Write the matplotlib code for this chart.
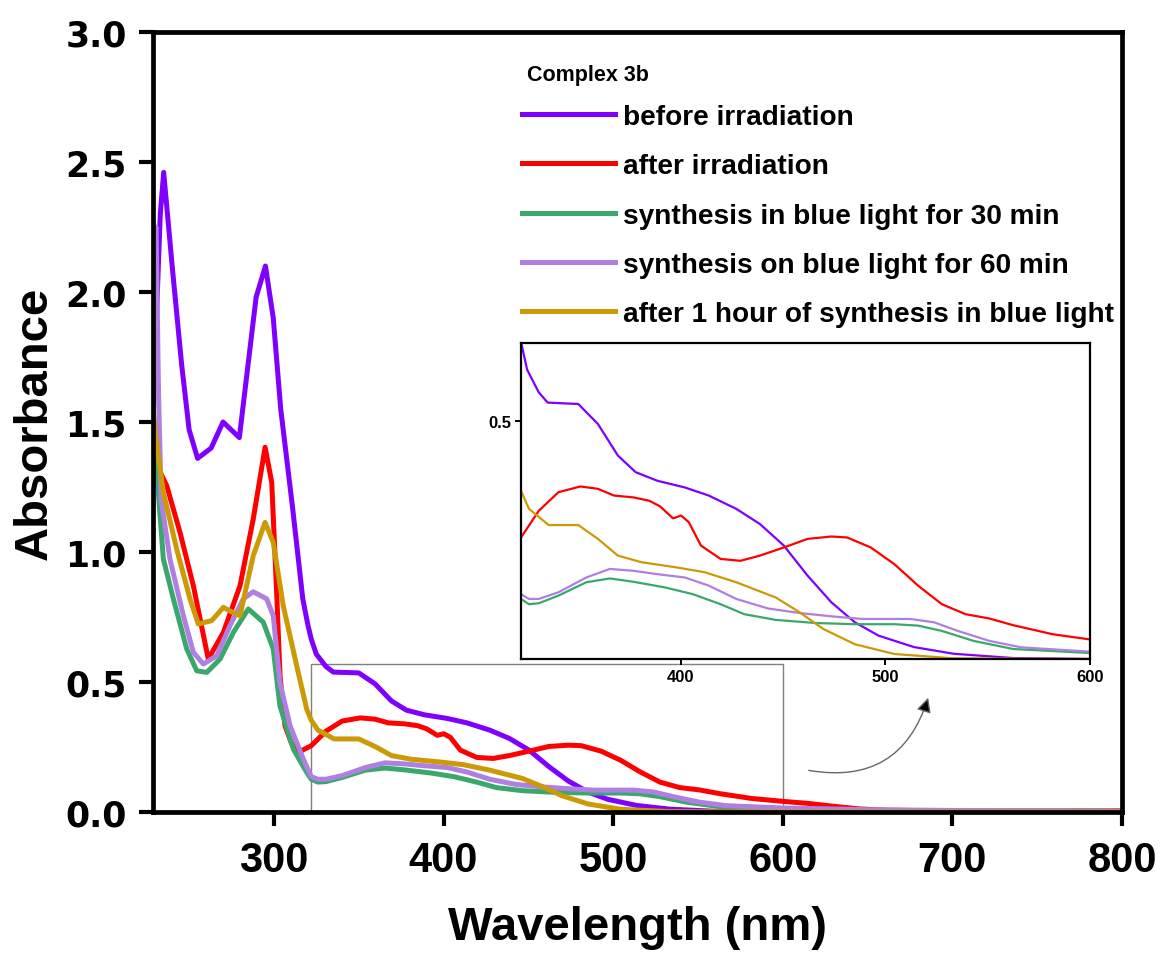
import matplotlib
matplotlib.use("Agg")
import matplotlib.pyplot as plt
from matplotlib.patches import Rectangle, FancyArrowPatch
from matplotlib.lines import Line2D

# ---- spectra: wavelength (nm) / absorbance pairs ----
wl_before = [229, 231, 233, 235, 240, 245.6, 250, 255, 263, 270, 279.6, 289.5, 295, 299.6,
             304, 311, 317, 320, 322, 325, 330.6, 335, 350, 359.6, 369.3, 378, 388.6, 402,
             413.7, 427.2, 438.8, 450.4, 462, 473.6, 485.1, 496.7, 514, 533.4, 562.4, 600,
             650, 700, 750, 800]
abs_before = [1.55, 1.95, 2.30, 2.46, 2.10, 1.72, 1.47, 1.36, 1.40, 1.50, 1.44, 1.98, 2.10, 1.90,
              1.55, 1.17, 0.82, 0.72, 0.665, 0.607, 0.56, 0.538, 0.535, 0.493, 0.427, 0.392,
              0.374, 0.360, 0.343, 0.315, 0.283, 0.238, 0.175, 0.119, 0.077, 0.049, 0.025,
              0.011, 0.002, 0.0, 0.0, 0.0, 0.0, 0.0]

wl_after = [229, 232, 236.8, 244.6, 252.5, 261.3, 270.2, 280, 287.8, 294.8, 298.7, 301.6,
            303.6, 306.5, 310, 313.4, 316, 322, 330.7, 340.3, 351, 359.6, 367.4, 377, 384.7,
            390, 396.3, 400.2, 404, 409.9, 419.5, 429.2, 438.8, 450.4, 462, 473.6, 481.3,
            492.9, 504.4, 516, 527.6, 539.2, 550.8, 562.4, 581.7, 600, 615, 630, 645, 660,
            700, 750, 800]
abs_after = [1.38, 1.32, 1.255, 1.076, 0.87, 0.588, 0.691, 0.87, 1.127, 1.403, 1.268, 0.845,
             0.524, 0.332, 0.27, 0.236, 0.235, 0.255, 0.311, 0.350, 0.362, 0.357, 0.343, 0.339,
             0.332, 0.32, 0.295, 0.301, 0.287, 0.238, 0.210, 0.206, 0.217, 0.234, 0.252, 0.257,
             0.255, 0.234, 0.199, 0.154, 0.115, 0.094, 0.085, 0.071, 0.052, 0.041, 0.033,
             0.022, 0.012, 0.007, 0.004, 0.004, 0.005]

wl_30 = [229, 231, 234.8, 240.7, 248.6, 254.5, 260.4, 268.2, 276.1, 284.9, 293.7, 299.6, 303.5,
         311.4, 319.3, 322, 325.9, 330.7, 340.3, 353.9, 365.4, 377, 392.5, 406, 419.5, 431.1,
         446.5, 465.9, 485.1, 504.4, 516, 527.6, 543.1, 562.4, 600, 650, 700, 800]
abs_30 = [1.55, 1.30, 0.973, 0.82, 0.627, 0.543, 0.537, 0.588, 0.691, 0.781, 0.73, 0.627, 0.409,
          0.242, 0.153, 0.126, 0.115, 0.117, 0.133, 0.161, 0.169, 0.162, 0.150, 0.136, 0.115,
          0.094, 0.082, 0.0755, 0.073, 0.073, 0.070, 0.059, 0.038, 0.021, 0.0126, 0.006,
          0.004, 0.003]

wl_60 = [229, 230.5, 232, 233.5, 238.7, 246.6, 252.5, 258.4, 266.3, 274.1, 282, 287.8, 295.7,
         299.6, 303.5, 309.5, 317.3, 322, 325.9, 330.7, 340.3, 353.9, 365.4, 377, 388.6, 402.1,
         413.7, 427.2, 442.7, 458.1, 473.6, 489, 512.2, 523.8, 535.4, 550.8, 566.3, 600, 650,
         700, 800]
abs_60 = [2.20, 2.25, 1.60, 1.20, 0.973, 0.755, 0.614, 0.569, 0.601, 0.717, 0.82, 0.847, 0.82,
          0.755, 0.499, 0.332, 0.204, 0.136, 0.126, 0.126, 0.14, 0.171, 0.189, 0.185, 0.178,
          0.171, 0.154, 0.126, 0.106, 0.0965, 0.0895, 0.084, 0.084, 0.077, 0.059, 0.038,
          0.0245, 0.0154, 0.009, 0.006, 0.004]

wl_1h = [229, 230, 234.8, 242.7, 250.5, 255.4, 263.3, 270.2, 275, 280, 287.8, 294.8, 299.6,
         305.5, 313.4, 319.3, 322, 325.9, 335.5, 350, 359.6, 369.3, 380.9, 398.3, 411.8, 427.2,
         446.5, 458.1, 469.7, 485.1, 504.4, 533.4, 600, 800]
abs_1h = [1.52, 1.46, 1.23, 1.01, 0.82, 0.723, 0.736, 0.787, 0.77, 0.755, 0.986, 1.114, 1.037,
          0.793, 0.563, 0.396, 0.353, 0.315, 0.281, 0.281, 0.252, 0.217, 0.203, 0.192, 0.182,
          0.161, 0.129, 0.098, 0.063, 0.031, 0.0105, 0.0014, 0.0, 0.0]

labels = ["before irradiation",
          "after irradiation",
          "synthesis in blue light for 30 min",
          "synthesis on blue light for 60 min",
          "after 1 hour of synthesis in blue light"]
colors = ["#7f00ff", "#ff0000", "#3aa86c", "#b07fe2", "#cc9a06"]
series = [(wl_before, abs_before), (wl_after, abs_after), (wl_30, abs_30),
          (wl_60, abs_60), (wl_1h, abs_1h)]
draw_order = [0, 1, 2, 3, 4]

legend_title = "Complex 3b"
x_main = (228.7, 800)
y_main = (0, 3.0)
x_ticks = [300, 400, 500, 600, 700, 800]
y_ticks = [0.0, 0.5, 1.0, 1.5, 2.0, 2.5, 3.0]
x_zoom = (322, 600)
y_zoom = (0, 0.663)
zoom_box_top = 0.569
inset_xticks = [400, 500, 600]
inset_yticks = [0.5]

W, H = 1164, 954
fig = plt.figure(figsize=(W / 100, H / 100), dpi=100)
ax = fig.add_axes([153 / W, 141 / H, 969 / W, 780 / H])

for i in draw_order:
    x, y = series[i]
    ax.plot(x, y, color=colors[i], lw=3.6, solid_joinstyle="round", label=labels[i])

ax.set_xlim(*x_main)
ax.set_ylim(*y_main)
ax.set_xticks(x_ticks)
ax.set_yticks(y_ticks)
ax.set_yticklabels([f"{v:.1f}" for v in y_ticks],
                   fontdict=dict(family="DejaVu Sans", weight="bold", size=25))
ax.set_xticklabels([str(v) for v in x_ticks],
                   fontdict=dict(family="Liberation Sans", weight="bold", size=30))
for s in ax.spines.values():
    s.set_linewidth(3.4)
ax.tick_params(direction="out", length=10, width=3.0)
ax.tick_params(axis="x", pad=10)
ax.tick_params(axis="y", pad=9)
ax.set_xlabel("Wavelength (nm)", family="Liberation Sans", weight="bold", size=34, labelpad=18)
ax.set_ylabel("Absorbance", family="Liberation Sans", weight="bold", size=34, labelpad=6)

# zoom region indicator
ax.add_patch(Rectangle((x_zoom[0], 0), x_zoom[1] - x_zoom[0], zoom_box_top,
                       fill=False, edgecolor="#808080", lw=1.0, zorder=1))

# curved arrow pointing to the inset
arrow = FancyArrowPatch((613.7, 0.162), (686.2, 0.45), transform=ax.transData,
                        connectionstyle="arc3,rad=0.45", arrowstyle="-|>",
                        mutation_scale=22, lw=1.0, edgecolor="#666666",
                        facecolor="black", zorder=5)
ax.add_patch(arrow)

# legend with a separate heading line
handles = [Line2D([], [], color=colors[i], lw=3.6) for i in range(len(labels))]
leg = ax.legend(handles, labels, loc="upper left",
                bbox_to_anchor=(522 / W, 1 - 105 / H), bbox_transform=fig.transFigure,
                frameon=False, borderpad=0.0, borderaxespad=0,
                handlelength=3.3, handletextpad=0.3, labelspacing=0.83,
                prop=dict(family="Liberation Sans", weight="bold", size=20.2))
fig.text(527 / W, 1 - 75 / H, legend_title, family="Liberation Sans", weight="bold",
         size=15.5, ha="left", va="center")

# inset
ins = fig.add_axes([521 / W, (H - 660) / H, 569 / W, 316 / H])
for i in draw_order:
    x, y = series[i]
    ins.plot(x, y, color=colors[i], lw=1.6)
ins.set_xlim(*x_zoom)
ins.set_ylim(*y_zoom)
ins.set_xticks(inset_xticks)
ins.set_yticks(inset_yticks)
ins.set_xticklabels([str(v) for v in inset_xticks],
                    fontdict=dict(family="Liberation Sans", weight="bold", size=12))
ins.set_yticklabels([f"{v:.1f}" for v in inset_yticks],
                    fontdict=dict(family="Liberation Sans", weight="bold", size=12))
for s in ins.spines.values():
    s.set_linewidth(1.6)
ins.tick_params(direction="out", length=4, width=1.4, pad=3)

fig.savefig("out.png", dpi=100)
